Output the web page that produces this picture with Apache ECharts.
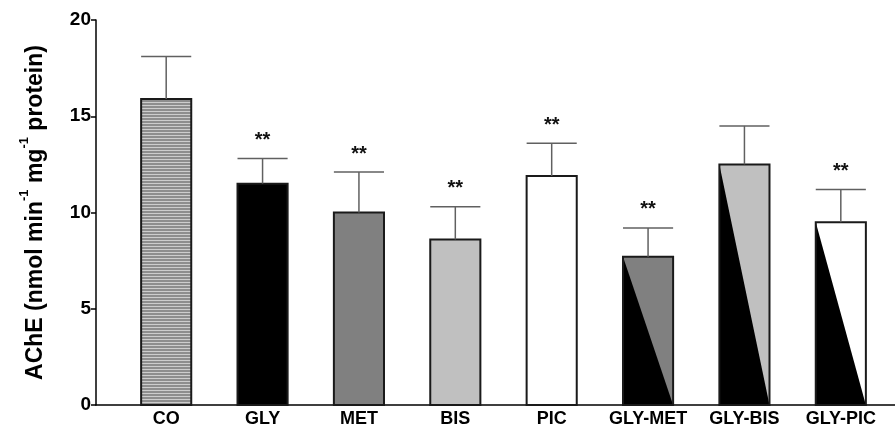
<!DOCTYPE html>
<html>
<head>
<meta charset="utf-8">
<script src="https://cdn.jsdelivr.net/npm/echarts@6/dist/echarts.min.js"></script>
<style>html,body{margin:0;padding:0;background:#fff}#c{width:895px;height:431px}</style>
</head>
<body>
<div id="c"></div>
<script>
var categories = ['CO', 'GLY', 'MET', 'BIS', 'PIC', 'GLY-MET', 'GLY-BIS', 'GLY-PIC'];
var means = [15.9, 11.5, 10.0, 8.6, 11.9, 7.7, 12.5, 9.5];
var sds = [2.2, 1.3, 2.1, 1.7, 1.7, 1.5, 2.0, 1.7];
var marks = ['', '**', '**', '**', '**', '**', '', '**'];
var yTicks = [0, 5, 10, 15, 20];

// styles (kept separate from data)
var fills = {
  'CO': 'stripe', 'GLY': '#000', 'MET': '#808080', 'BIS': '#c0c0c0', 'PIC': '#fff',
  'GLY-MET': '#808080', 'GLY-BIS': '#c0c0c0', 'GLY-PIC': '#fff'
};
var diag = { 'GLY-MET': true, 'GLY-BIS': true, 'GLY-PIC': true };

var pc = document.createElement('canvas');
pc.width = 2; pc.height = 3;
var g = pc.getContext('2d');
g.fillStyle = '#8e8e8e'; g.fillRect(0, 0, 2, 3);
g.fillStyle = '#cdcdcd'; g.fillRect(0, 0, 2, 1);
var stripe = { image: pc, repeat: 'repeat' };

var FONT = '"Liberation Sans", Arial, sans-serif';
var chart = echarts.init(document.getElementById('c'), null, { renderer: 'canvas' });

var data = categories.map(function (c, i) { return [i, means[i], sds[i]]; });

chart.setOption({
  animation: false,
  backgroundColor: '#fff',
  grid: [
    { left: 96, right: 0, top: 20, bottom: 26 },
    { left: 118, right: 6, top: 20, bottom: 26 }
  ],
  xAxis: [
    { gridIndex: 0, type: 'value', min: 0, max: 1, axisLine: { show: true, lineStyle: { color: '#000', width: 1.5 } },
      axisTick: { show: false }, axisLabel: { show: false }, splitLine: { show: false } },
    { gridIndex: 1, type: 'category', data: categories, axisLine: { show: false }, axisTick: { show: false },
      axisLabel: { interval: 0, color: '#000', fontFamily: FONT, fontWeight: 'bold', fontSize: 18, margin: 5 } }
  ],
  yAxis: [
    { gridIndex: 0, type: 'value', min: yTicks[0], max: yTicks[yTicks.length - 1], interval: 5,
      axisLine: { show: true, lineStyle: { color: '#000', width: 1.5 } },
      axisTick: { show: true, length: 5, lineStyle: { color: '#000', width: 1.5 } },
      axisLabel: { color: '#000', fontFamily: FONT, fontWeight: 'bold', fontSize: 19, margin: 5 },
      splitLine: { show: false },
      name: '{m|AChE (nmol min}{s|-1}{m| mg}{s|-1}{m| protein)}',
      nameLocation: 'middle', nameGap: 49,
      nameTextStyle: {
        rich: {
          m: { fontFamily: FONT, fontWeight: 'bold', fontSize: 23, color: '#000', lineHeight: 29, verticalAlign: 'bottom' },
          s: { fontFamily: FONT, fontWeight: 'bold', fontSize: 13, color: '#000', lineHeight: 29, verticalAlign: 'top' }
        }
      }
    },
    { gridIndex: 1, type: 'value', min: 0, max: 20, show: false }
  ],
  series: [{
    type: 'custom',
    xAxisIndex: 1, yAxisIndex: 1,
    data: data,
    renderItem: function (params, api) {
      var i = api.value(0), v = api.value(1), sd = api.value(2);
      var cat = categories[i];
      var top = api.coord([i, v]);
      var bot = api.coord([i, 0]);
      var err = api.coord([i, v + sd]);
      var w = api.size([1, 0])[0] * 0.52;
      var x0 = top[0] - w / 2, x1 = top[0] + w / 2;
      var ch = [];
      var f = fills[cat] === 'stripe' ? stripe : fills[cat];
      ch.push({ type: 'rect', shape: { x: x0, y: top[1], width: w, height: bot[1] - top[1] }, style: { fill: f } });
      if (diag[cat]) {
        ch.push({ type: 'polygon', shape: { points: [[x0, top[1]], [x0, bot[1]], [x1, bot[1]]] }, style: { fill: '#000' } });
      }
      ch.push({ type: 'rect', shape: { x: x0, y: top[1], width: w, height: bot[1] - top[1] }, style: { fill: null, stroke: '#1a1a1a', lineWidth: 2 } });
      ch.push({ type: 'line', shape: { x1: top[0], y1: top[1], x2: top[0], y2: err[1] }, style: { stroke: '#606060', lineWidth: 1.5 } });
      ch.push({ type: 'line', shape: { x1: x0, y1: err[1], x2: x1, y2: err[1] }, style: { stroke: '#606060', lineWidth: 1.5 } });
      if (marks[i]) {
        ch.push({ type: 'text', x: top[0], y: err[1] - 8, style: { text: marks[i], fill: '#111', font: 'bold 20px ' + FONT, align: 'center', verticalAlign: 'bottom' } });
      }
      return { type: 'group', children: ch };
    }
  }]
});
</script>
</body>
</html>
